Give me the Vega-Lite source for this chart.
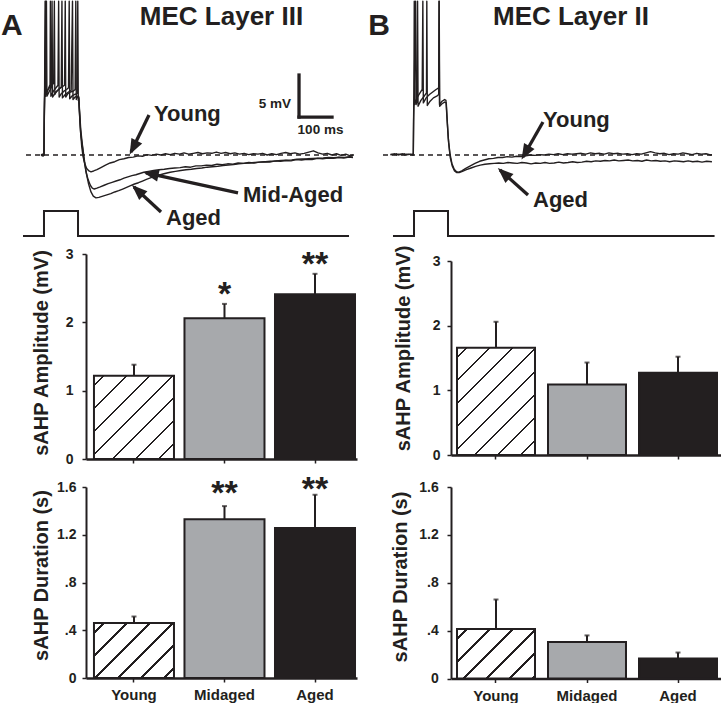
{
"$schema":"https://vega.github.io/schema/vega-lite/v6.json",
"background":"white",
"padding":{"left":0,"top":0,"right":0,"bottom":0},
"config":{"view":{"stroke":null},"font":"Liberation Sans",
 "axis":{"domainColor":"#231f20","tickColor":"#231f20","labelColor":"#231f20","titleColor":"#231f20","labelFont":"Liberation Sans","titleFont":"Liberation Sans","labelFontWeight":"bold","titleFontWeight":"bold","labelFontSize":14,"titleFontSize":20,"grid":false,"labelFlush":false,"labelOverlap":false,"labelBound":false}},
"datasets":{
 "trA":[
  {"s":"Y","t":55,"v":0},{"s":"Y","t":58,"v":0.1},{"s":"Y","t":61,"v":-0.1},{"s":"Y","t":63.5,"v":0.05},{"s":"Y","t":64.5,"v":5},{"s":"Y","t":65.5,"v":8.0},{"s":"Y","t":67,"v":18.3},{"s":"Y","t":68.5,"v":7.0},{"s":"Y","t":72,"v":7.6},{"s":"Y","t":80,"v":8.0},{"s":"Y","t":88,"v":8.3},{"s":"Y","t":93,"v":8.6},{"s":"Y","t":95,"v":18.3},{"s":"Y","t":96.5,"v":7.2},{"s":"Y","t":102,"v":7.6},{"s":"Y","t":110,"v":7.9},{"s":"Y","t":118,"v":8.1},{"s":"Y","t":126,"v":8.3},{"s":"Y","t":128,"v":18.3},{"s":"Y","t":129.5,"v":6.9},{"s":"Y","t":136,"v":7.3},{"s":"Y","t":144,"v":7.5},{"s":"Y","t":152,"v":7.6},{"s":"Y","t":158,"v":7.8},{"s":"Y","t":160,"v":18.3},{"s":"Y","t":161.5,"v":6.6},{"s":"Y","t":165,"v":6.9},{"s":"Y","t":168,"v":7.0},
  {"s":"Y","t":170,"v":6.0},{"s":"Y","t":174,"v":3.0},{"s":"Y","t":178,"v":1.0},{"s":"Y","t":182,"v":-0.2},{"s":"Y","t":187,"v":-1.0},{"s":"Y","t":193,"v":-1.6},{"s":"Y","t":200,"v":-1.9},{"s":"Y","t":206,"v":-2.0},{"s":"Y","t":214,"v":-1.9},{"s":"Y","t":224,"v":-1.75},{"s":"Y","t":236,"v":-1.5},{"s":"Y","t":250,"v":-1.2},{"s":"Y","t":264,"v":-0.95},{"s":"Y","t":278,"v":-0.8},{"s":"Y","t":292,"v":-0.55},{"s":"Y","t":306,"v":-0.45},{"s":"Y","t":320,"v":-0.3},{"s":"Y","t":334,"v":-0.25},{"s":"Y","t":348,"v":-0.1},{"s":"Y","t":362,"v":-0.15},{"s":"Y","t":376,"v":0.05},{"s":"Y","t":390,"v":-0.05},{"s":"Y","t":404,"v":0.1},{"s":"Y","t":418,"v":0.0},{"s":"Y","t":432,"v":0.15},{"s":"Y","t":446,"v":0.05},{"s":"Y","t":460,"v":0.2},{"s":"Y","t":474,"v":0.1},{"s":"Y","t":488,"v":0.25},{"s":"Y","t":502,"v":0.1},{"s":"Y","t":516,"v":0.2},{"s":"Y","t":530,"v":0.3},{"s":"Y","t":544,"v":0.15},{"s":"Y","t":558,"v":0.25},{"s":"Y","t":572,"v":0.2},{"s":"Y","t":586,"v":0.35},{"s":"Y","t":600,"v":0.2},{"s":"Y","t":614,"v":0.3},{"s":"Y","t":628,"v":0.15},{"s":"Y","t":642,"v":0.25},{"s":"Y","t":656,"v":0.1},{"s":"Y","t":670,"v":0.2},{"s":"Y","t":684,"v":0.05},{"s":"Y","t":698,"v":0.15},{"s":"Y","t":712,"v":0.1},{"s":"Y","t":726,"v":0.2},{"s":"Y","t":740,"v":0.0},{"s":"Y","t":754,"v":0.15},{"s":"Y","t":768,"v":0.05},{"s":"Y","t":782,"v":0.2},{"s":"Y","t":796,"v":0.3},{"s":"Y","t":810,"v":0.15},{"s":"Y","t":824,"v":0.25},{"s":"Y","t":838,"v":0.1},{"s":"Y","t":852,"v":0.2},{"s":"Y","t":866,"v":0.35},{"s":"Y","t":880,"v":0.5},{"s":"Y","t":894,"v":0.25},{"s":"Y","t":908,"v":0.1},{"s":"Y","t":922,"v":0.2},{"s":"Y","t":936,"v":0.0},{"s":"Y","t":950,"v":0.15},{"s":"Y","t":964,"v":-0.05},{"s":"Y","t":978,"v":0.1},{"s":"Y","t":992,"v":-0.1},{"s":"Y","t":1000,"v":0.0},
  {"s":"M","t":55,"v":0.05},{"s":"M","t":58,"v":-0.1},{"s":"M","t":61,"v":0.1},{"s":"M","t":63.5,"v":0},{"s":"M","t":64.5,"v":4.5},{"s":"M","t":66,"v":8.2},{"s":"M","t":69,"v":18.3},{"s":"M","t":70.5,"v":7.2},{"s":"M","t":76,"v":7.8},{"s":"M","t":82,"v":8.4},{"s":"M","t":83,"v":18.3},{"s":"M","t":84.5,"v":7.0},{"s":"M","t":92,"v":7.6},{"s":"M","t":100,"v":8.0},{"s":"M","t":106,"v":8.3},{"s":"M","t":108,"v":18.3},{"s":"M","t":109.5,"v":6.9},{"s":"M","t":116,"v":7.3},{"s":"M","t":124,"v":7.6},{"s":"M","t":132,"v":7.8},{"s":"M","t":138,"v":8.0},{"s":"M","t":140,"v":18.3},{"s":"M","t":141.5,"v":6.7},{"s":"M","t":148,"v":7.0},{"s":"M","t":156,"v":7.2},{"s":"M","t":164,"v":7.3},{"s":"M","t":166,"v":18.3},{"s":"M","t":167.5,"v":6.5},{"s":"M","t":169,"v":6.8},
  {"s":"M","t":171,"v":5.0},{"s":"M","t":175,"v":2.5},{"s":"M","t":180,"v":1.0},{"s":"M","t":185,"v":-0.6},{"s":"M","t":191,"v":-2.0},{"s":"M","t":197,"v":-2.9},{"s":"M","t":204,"v":-3.6},{"s":"M","t":210,"v":-3.95},{"s":"M","t":216,"v":-4.05},{"s":"M","t":224,"v":-3.95},{"s":"M","t":234,"v":-3.8},{"s":"M","t":246,"v":-3.6},{"s":"M","t":258,"v":-3.4},{"s":"M","t":270,"v":-3.25},{"s":"M","t":282,"v":-3.1},{"s":"M","t":294,"v":-2.95},{"s":"M","t":306,"v":-2.75},{"s":"M","t":318,"v":-2.6},{"s":"M","t":330,"v":-2.45},{"s":"M","t":342,"v":-2.35},{"s":"M","t":354,"v":-2.2},{"s":"M","t":366,"v":-2.05},{"s":"M","t":380,"v":-1.95},{"s":"M","t":396,"v":-1.85},{"s":"M","t":412,"v":-1.75},{"s":"M","t":428,"v":-1.7},{"s":"M","t":444,"v":-1.6},{"s":"M","t":460,"v":-1.55},{"s":"M","t":476,"v":-1.5},{"s":"M","t":492,"v":-1.4},{"s":"M","t":508,"v":-1.45},{"s":"M","t":524,"v":-1.3},{"s":"M","t":540,"v":-1.3},{"s":"M","t":556,"v":-1.2},{"s":"M","t":572,"v":-1.25},{"s":"M","t":588,"v":-1.1},{"s":"M","t":604,"v":-1.15},{"s":"M","t":620,"v":-1.05},{"s":"M","t":636,"v":-1.1},{"s":"M","t":652,"v":-0.95},{"s":"M","t":668,"v":-1.0},{"s":"M","t":684,"v":-0.9},{"s":"M","t":700,"v":-0.95},{"s":"M","t":716,"v":-0.85},{"s":"M","t":732,"v":-0.8},{"s":"M","t":748,"v":-0.85},{"s":"M","t":764,"v":-0.7},{"s":"M","t":780,"v":-0.75},{"s":"M","t":796,"v":-0.65},{"s":"M","t":812,"v":-0.7},{"s":"M","t":828,"v":-0.55},{"s":"M","t":844,"v":-0.6},{"s":"M","t":860,"v":-0.5},{"s":"M","t":876,"v":-0.55},{"s":"M","t":892,"v":-0.4},{"s":"M","t":908,"v":-0.45},{"s":"M","t":924,"v":-0.35},{"s":"M","t":940,"v":-0.4},{"s":"M","t":956,"v":-0.3},{"s":"M","t":972,"v":-0.35},{"s":"M","t":988,"v":-0.25},{"s":"M","t":1000,"v":-0.3},
  {"s":"A","t":55,"v":-0.05},{"s":"A","t":58,"v":0.05},{"s":"A","t":61,"v":-0.1},{"s":"A","t":63.5,"v":0.05},{"s":"A","t":64.5,"v":4.0},{"s":"A","t":66,"v":7.9},{"s":"A","t":71,"v":18.3},{"s":"A","t":72.5,"v":7.0},{"s":"A","t":80,"v":7.6},{"s":"A","t":86,"v":8.1},{"s":"A","t":88,"v":18.3},{"s":"A","t":89.5,"v":6.9},{"s":"A","t":98,"v":7.4},{"s":"A","t":108,"v":7.8},{"s":"A","t":116,"v":8.1},{"s":"A","t":118,"v":18.3},{"s":"A","t":119.5,"v":6.8},{"s":"A","t":128,"v":7.2},{"s":"A","t":138,"v":7.5},{"s":"A","t":146,"v":7.7},{"s":"A","t":150,"v":18.3},{"s":"A","t":151.5,"v":6.6},{"s":"A","t":158,"v":6.9},{"s":"A","t":166,"v":7.0},{"s":"A","t":169,"v":6.9},
  {"s":"A","t":171,"v":5.5},{"s":"A","t":175,"v":3.0},{"s":"A","t":180,"v":1.2},{"s":"A","t":186,"v":-0.6},{"s":"A","t":192,"v":-2.2},{"s":"A","t":199,"v":-3.5},{"s":"A","t":206,"v":-4.4},{"s":"A","t":213,"v":-4.9},{"s":"A","t":221,"v":-5.1},{"s":"A","t":230,"v":-5.05},{"s":"A","t":242,"v":-4.9},{"s":"A","t":254,"v":-4.75},{"s":"A","t":266,"v":-4.6},{"s":"A","t":278,"v":-4.4},{"s":"A","t":290,"v":-4.25},{"s":"A","t":302,"v":-4.05},{"s":"A","t":314,"v":-3.85},{"s":"A","t":326,"v":-3.65},{"s":"A","t":338,"v":-3.45},{"s":"A","t":350,"v":-3.3},{"s":"A","t":362,"v":-3.1},{"s":"A","t":374,"v":-2.9},{"s":"A","t":388,"v":-2.7},{"s":"A","t":402,"v":-2.5},{"s":"A","t":416,"v":-2.35},{"s":"A","t":430,"v":-2.2},{"s":"A","t":446,"v":-2.05},{"s":"A","t":462,"v":-1.95},{"s":"A","t":478,"v":-1.85},{"s":"A","t":494,"v":-1.75},{"s":"A","t":510,"v":-1.7},{"s":"A","t":526,"v":-1.6},{"s":"A","t":542,"v":-1.55},{"s":"A","t":558,"v":-1.45},{"s":"A","t":574,"v":-1.4},{"s":"A","t":590,"v":-1.35},{"s":"A","t":606,"v":-1.25},{"s":"A","t":622,"v":-1.2},{"s":"A","t":638,"v":-1.15},{"s":"A","t":654,"v":-1.05},{"s":"A","t":670,"v":-1.0},{"s":"A","t":686,"v":-0.95},{"s":"A","t":702,"v":-0.9},{"s":"A","t":718,"v":-0.85},{"s":"A","t":734,"v":-0.8},{"s":"A","t":750,"v":-0.75},{"s":"A","t":766,"v":-0.72},{"s":"A","t":782,"v":-0.65},{"s":"A","t":798,"v":-0.62},{"s":"A","t":814,"v":-0.58},{"s":"A","t":830,"v":-0.5},{"s":"A","t":846,"v":-0.48},{"s":"A","t":862,"v":-0.45},{"s":"A","t":878,"v":-0.4},{"s":"A","t":894,"v":-0.38},{"s":"A","t":910,"v":-0.35},{"s":"A","t":926,"v":-0.3},{"s":"A","t":942,"v":-0.32},{"s":"A","t":958,"v":-0.25},{"s":"A","t":974,"v":-0.28},{"s":"A","t":990,"v":-0.2},{"s":"A","t":1000,"v":-0.25}
 ],
 "trB":[
  {"s":"Y","t":-6,"v":0.1},{"s":"Y","t":0,"v":0.05},{"s":"Y","t":6,"v":0.15},{"s":"Y","t":12,"v":0.0},{"s":"Y","t":18,"v":0.1},{"s":"Y","t":24,"v":0.05},{"s":"Y","t":30,"v":0.15},{"s":"Y","t":36,"v":0.0},{"s":"Y","t":42,"v":0.1},{"s":"Y","t":48,"v":0.05},{"s":"Y","t":54,"v":0.1},{"s":"Y","t":60,"v":0.0},{"s":"Y","t":63,"v":0.05},
  {"s":"Y","t":64,"v":4.5},{"s":"Y","t":65,"v":7.5},{"s":"Y","t":66,"v":18.3},{"s":"Y","t":67.5,"v":6.0},{"s":"Y","t":74,"v":6.8},{"s":"Y","t":82,"v":7.3},{"s":"Y","t":90,"v":7.8},{"s":"Y","t":92,"v":18.3},{"s":"Y","t":93.5,"v":6.2},{"s":"Y","t":102,"v":6.8},{"s":"Y","t":112,"v":7.2},{"s":"Y","t":122,"v":7.5},{"s":"Y","t":132,"v":7.8},{"s":"Y","t":140,"v":8.0},{"s":"Y","t":141,"v":18.3},{"s":"Y","t":142.5,"v":6.0},{"s":"Y","t":150,"v":6.4},{"s":"Y","t":158,"v":6.6},{"s":"Y","t":162,"v":6.5},
  {"s":"Y","t":165,"v":4.5},{"s":"Y","t":169,"v":2.0},{"s":"Y","t":174,"v":0.2},{"s":"Y","t":180,"v":-1.0},{"s":"Y","t":187,"v":-1.7},{"s":"Y","t":194,"v":-2.0},{"s":"Y","t":201,"v":-2.05},{"s":"Y","t":210,"v":-1.9},{"s":"Y","t":222,"v":-1.6},{"s":"Y","t":236,"v":-1.3},{"s":"Y","t":250,"v":-1.0},{"s":"Y","t":264,"v":-0.75},{"s":"Y","t":278,"v":-0.6},{"s":"Y","t":292,"v":-0.45},{"s":"Y","t":306,"v":-0.4},{"s":"Y","t":320,"v":-0.3},{"s":"Y","t":334,"v":-0.3},{"s":"Y","t":348,"v":-0.2},{"s":"Y","t":362,"v":-0.25},{"s":"Y","t":376,"v":-0.15},{"s":"Y","t":390,"v":-0.2},{"s":"Y","t":404,"v":-0.1},{"s":"Y","t":418,"v":0.0},{"s":"Y","t":432,"v":-0.05},{"s":"Y","t":446,"v":0.05},{"s":"Y","t":460,"v":0.0},{"s":"Y","t":474,"v":0.1},{"s":"Y","t":488,"v":0.05},{"s":"Y","t":502,"v":0.15},{"s":"Y","t":516,"v":0.05},{"s":"Y","t":530,"v":0.15},{"s":"Y","t":544,"v":0.1},{"s":"Y","t":558,"v":0.15},{"s":"Y","t":572,"v":0.2},{"s":"Y","t":586,"v":0.1},{"s":"Y","t":600,"v":0.25},{"s":"Y","t":614,"v":0.15},{"s":"Y","t":628,"v":0.2},{"s":"Y","t":642,"v":0.1},{"s":"Y","t":656,"v":0.25},{"s":"Y","t":670,"v":0.15},{"s":"Y","t":684,"v":0.2},{"s":"Y","t":698,"v":0.1},{"s":"Y","t":712,"v":0.15},{"s":"Y","t":726,"v":0.05},{"s":"Y","t":740,"v":0.15},{"s":"Y","t":754,"v":0.1},{"s":"Y","t":768,"v":0.25},{"s":"Y","t":782,"v":0.4},{"s":"Y","t":796,"v":0.25},{"s":"Y","t":810,"v":0.15},{"s":"Y","t":824,"v":0.2},{"s":"Y","t":838,"v":0.05},{"s":"Y","t":852,"v":0.15},{"s":"Y","t":866,"v":0.1},{"s":"Y","t":880,"v":0.25},{"s":"Y","t":894,"v":0.15},{"s":"Y","t":908,"v":0.05},{"s":"Y","t":922,"v":0.2},{"s":"Y","t":936,"v":0.1},{"s":"Y","t":950,"v":0.15},{"s":"Y","t":964,"v":0.0},{"s":"Y","t":968,"v":0.05},
  {"s":"A","t":-6,"v":0.0},{"s":"A","t":0,"v":0.1},{"s":"A","t":6,"v":0.05},{"s":"A","t":12,"v":0.15},{"s":"A","t":18,"v":0.0},{"s":"A","t":24,"v":0.1},{"s":"A","t":30,"v":0.05},{"s":"A","t":36,"v":0.15},{"s":"A","t":42,"v":0.0},{"s":"A","t":48,"v":0.1},{"s":"A","t":54,"v":0.05},{"s":"A","t":60,"v":0.1},{"s":"A","t":63,"v":0.0},
  {"s":"A","t":64,"v":4.0},{"s":"A","t":65.5,"v":7.0},{"s":"A","t":70,"v":18.3},{"s":"A","t":71.5,"v":6.0},{"s":"A","t":75,"v":6.5},{"s":"A","t":76,"v":18.3},{"s":"A","t":77.5,"v":5.8},{"s":"A","t":86,"v":6.5},{"s":"A","t":96,"v":7.0},{"s":"A","t":103,"v":7.4},{"s":"A","t":104,"v":18.3},{"s":"A","t":105.5,"v":5.9},{"s":"A","t":114,"v":6.4},{"s":"A","t":124,"v":6.8},{"s":"A","t":134,"v":7.0},{"s":"A","t":140,"v":7.2},{"s":"A","t":141.5,"v":18.3},{"s":"A","t":143,"v":5.8},{"s":"A","t":150,"v":6.1},{"s":"A","t":158,"v":6.3},{"s":"A","t":163,"v":6.2},
  {"s":"A","t":166,"v":4.0},{"s":"A","t":170,"v":1.5},{"s":"A","t":175,"v":-0.3},{"s":"A","t":181,"v":-1.3},{"s":"A","t":188,"v":-1.9},{"s":"A","t":195,"v":-2.1},{"s":"A","t":202,"v":-2.1},{"s":"A","t":212,"v":-1.95},{"s":"A","t":224,"v":-1.75},{"s":"A","t":238,"v":-1.55},{"s":"A","t":252,"v":-1.35},{"s":"A","t":266,"v":-1.2},{"s":"A","t":280,"v":-1.1},{"s":"A","t":294,"v":-1.05},{"s":"A","t":308,"v":-1.0},{"s":"A","t":322,"v":-0.95},{"s":"A","t":336,"v":-1.0},{"s":"A","t":350,"v":-0.9},{"s":"A","t":364,"v":-0.95},{"s":"A","t":378,"v":-1.0},{"s":"A","t":392,"v":-0.9},{"s":"A","t":406,"v":-0.95},{"s":"A","t":420,"v":-1.05},{"s":"A","t":434,"v":-0.95},{"s":"A","t":448,"v":-1.0},{"s":"A","t":462,"v":-0.9},{"s":"A","t":476,"v":-1.0},{"s":"A","t":490,"v":-0.95},{"s":"A","t":504,"v":-0.85},{"s":"A","t":518,"v":-0.95},{"s":"A","t":532,"v":-0.9},{"s":"A","t":546,"v":-0.8},{"s":"A","t":560,"v":-0.9},{"s":"A","t":574,"v":-0.85},{"s":"A","t":588,"v":-0.75},{"s":"A","t":602,"v":-0.8},{"s":"A","t":616,"v":-0.7},{"s":"A","t":630,"v":-0.75},{"s":"A","t":644,"v":-0.65},{"s":"A","t":658,"v":-0.7},{"s":"A","t":672,"v":-0.6},{"s":"A","t":686,"v":-0.7},{"s":"A","t":700,"v":-0.65},{"s":"A","t":714,"v":-0.6},{"s":"A","t":728,"v":-0.7},{"s":"A","t":742,"v":-0.65},{"s":"A","t":756,"v":-0.75},{"s":"A","t":770,"v":-0.6},{"s":"A","t":784,"v":-0.7},{"s":"A","t":798,"v":-0.65},{"s":"A","t":812,"v":-0.75},{"s":"A","t":826,"v":-0.7},{"s":"A","t":840,"v":-0.8},{"s":"A","t":854,"v":-0.7},{"s":"A","t":868,"v":-0.75},{"s":"A","t":882,"v":-0.8},{"s":"A","t":896,"v":-0.7},{"s":"A","t":910,"v":-0.8},{"s":"A","t":924,"v":-0.75},{"s":"A","t":938,"v":-0.85},{"s":"A","t":952,"v":-0.75},{"s":"A","t":968,"v":-0.8}
 ],
 "stimA":[{"i":1,"t":0,"v":-9.64},{"i":2,"t":63.6,"v":-9.64},{"i":3,"t":63.6,"v":-6.67},{"i":4,"t":166.7,"v":-6.67},{"i":5,"t":166.7,"v":-9.64},{"i":6,"t":987.9,"v":-9.64}],
 "stimB":[{"i":1,"t":1.5,"v":-9.64},{"i":2,"t":65.2,"v":-9.64},{"i":3,"t":65.2,"v":-6.67},{"i":4,"t":168.2,"v":-6.67},{"i":5,"t":168.2,"v":-9.64},{"i":6,"t":976,"v":-9.64}],
 "arrA":[{"a":"Young","t":381.8,"v":4.76,"t2":327.3,"v2":0.36},{"a":"Mid","t":651.5,"v":-4.52,"t2":372.7,"v2":-2.14},{"a":"Aged","t":418.2,"v":-6.79,"t2":336.4,"v2":-3.81}],
 "arrB":[{"a":"Young","t":456,"v":3.93,"t2":395.5,"v2":-0.24},{"a":"Aged","t":410.6,"v":-4.76,"t2":325.8,"v2":-1.79}],
 "ampA":[{"g":"Young","m":1.22,"hi":1.38},{"g":"Midaged","m":2.06,"hi":2.27,"star":"*","sy":2.26},{"g":"Aged","m":2.41,"hi":2.71,"star":"**","sy":2.70}],
 "durA":[{"g":"Young","m":0.46,"hi":0.515},{"g":"Midaged","m":1.33,"hi":1.44,"star":"**","sy":1.46},{"g":"Aged","m":1.257,"hi":1.535,"star":"**","sy":1.49}],
 "ampB":[{"g":"Young","m":1.66,"hi":2.06},{"g":"Midaged","m":1.09,"hi":1.43},{"g":"Aged","m":1.27,"hi":1.52}],
 "durB":[{"g":"Young","m":0.414,"hi":0.66},{"g":"Midaged","m":0.305,"hi":0.36},{"g":"Aged","m":0.167,"hi":0.217}]
},
"bounds":"full",
"spacing":11,
"hconcat":[
 {"bounds":"flush","spacing":28,"vconcat":[
  {"width":271,"height":226,
   "layer":[
    {"data":{"values":[{"t":9.1,"t2":1003,"v":0}]},"mark":{"type":"rule","color":"#231f20","strokeWidth":1.3,"strokeDash":[5,4]},
     "encoding":{"x":{"field":"t","type":"quantitative","scale":{"domain":[190.9,1012.1],"nice":false,"zero":false},"axis":null},"x2":{"field":"t2"},"y":{"field":"v","type":"quantitative","scale":{"domain":[-8.452,18.452],"nice":false,"zero":false},"axis":null}}},
    {"data":{"name":"stimA"},"mark":{"type":"line","color":"#231f20","strokeWidth":2},"encoding":{"x":{"field":"t","type":"quantitative"},"y":{"field":"v","type":"quantitative"},"order":{"field":"i","type":"quantitative"}}},
    {"data":{"name":"trA"},"mark":{"type":"line","color":"#231f20","strokeWidth":1.4,"strokeJoin":"round"},"encoding":{"x":{"field":"t","type":"quantitative"},"y":{"field":"v","type":"quantitative"},"detail":{"field":"s","type":"nominal"}}},
    {"data":{"values":[{"t":836.4,"t2":836.4,"v":4.52,"v2":9.52},{"t":836.4,"t2":936.4,"v":4.52,"v2":4.52}]},"mark":{"type":"rule","color":"#231f20","strokeWidth":3.3,"strokeCap":"square"},"encoding":{"x":{"field":"t","type":"quantitative"},"x2":{"field":"t2"},"y":{"field":"v","type":"quantitative"},"y2":{"field":"v2"}}},
    {"data":{"values":[{"label":"MEC Layer III","t":601.5,"v":15.48}]},"mark":{"type":"text","font":"Liberation Sans","fontWeight":"bold","fontSize":26,"align":"center","baseline":"alphabetic","color":"#231f20"},"encoding":{"x":{"field":"t","type":"quantitative"},"y":{"field":"v","type":"quantitative"},"text":{"field":"label"}}},
    {"data":{"values":[{"label":"A","t":-66.7,"v":14.29}]},"mark":{"type":"text","font":"Liberation Sans","fontWeight":"bold","fontSize":30,"align":"left","baseline":"alphabetic","color":"#231f20"},"encoding":{"x":{"field":"t","type":"quantitative"},"y":{"field":"v","type":"quantitative"},"text":{"field":"label"}}},
    {"data":{"values":[{"label":"Young","t":397,"v":4.05},{"label":"Mid-Aged","t":666.7,"v":-5.56},{"label":"Aged","t":433.3,"v":-8.33}]},"mark":{"type":"text","font":"Liberation Sans","fontWeight":"bold","fontSize":22,"align":"left","baseline":"alphabetic","color":"#231f20"},"encoding":{"x":{"field":"t","type":"quantitative"},"y":{"field":"v","type":"quantitative"},"text":{"field":"label"}}},
    {"data":{"values":[{"label":"5 mV","t":812.1,"v":5.56}]},"mark":{"type":"text","font":"Liberation Sans","fontWeight":"bold","fontSize":13.5,"align":"right","baseline":"alphabetic","color":"#231f20"},"encoding":{"x":{"field":"t","type":"quantitative"},"y":{"field":"v","type":"quantitative"},"text":{"field":"label"}}},
    {"data":{"values":[{"label":"100 ms","t":901.5,"v":2.5}]},"mark":{"type":"text","font":"Liberation Sans","fontWeight":"bold","fontSize":13.5,"align":"center","baseline":"alphabetic","color":"#231f20"},"encoding":{"x":{"field":"t","type":"quantitative"},"y":{"field":"v","type":"quantitative"},"text":{"field":"label"}}},
    {"data":{"name":"arrA"},"mark":{"type":"rule","color":"#231f20","strokeWidth":3.3},"encoding":{"x":{"field":"t","type":"quantitative"},"x2":{"field":"t2"},"y":{"field":"v","type":"quantitative"},"y2":{"field":"v2"}}},
    {"data":{"name":"arrA"},"transform":[{"filter":"datum.a == 'Young'"}],"mark":{"type":"point","shape":"M0,-0.3L0.62,1.3L-0.62,1.3Z","filled":true,"size":380,"angle":207.2,"color":"#231f20","opacity":1,"strokeWidth":0},"encoding":{"x":{"field":"t2","type":"quantitative"},"y":{"field":"v2","type":"quantitative"}}},
    {"data":{"name":"arrA"},"transform":[{"filter":"datum.a == 'Mid'"}],"mark":{"type":"point","shape":"M0,-0.3L0.62,1.3L-0.62,1.3Z","filled":true,"size":380,"angle":282.3,"color":"#231f20","opacity":1,"strokeWidth":0},"encoding":{"x":{"field":"t2","type":"quantitative"},"y":{"field":"v2","type":"quantitative"}}},
    {"data":{"name":"arrA"},"transform":[{"filter":"datum.a == 'Aged'"}],"mark":{"type":"point","shape":"M0,-0.3L0.62,1.3L-0.62,1.3Z","filled":true,"size":380,"angle":312.8,"color":"#231f20","opacity":1,"strokeWidth":0},"encoding":{"x":{"field":"t2","type":"quantitative"},"y":{"field":"v2","type":"quantitative"}}}
   ]},
  {"width":271,"height":205,"data":{"name":"ampA"},
   "encoding":{"x":{"field":"g","type":"nominal","scale":{"domain":["Young","Midaged","Aged"],"paddingInner":0.116,"paddingOuter":0.055,"align":0.8},"axis":{"title":null,"labels":false,"tickSize":4,"tickWidth":1.5,"domainWidth":2.5}}},
   "layer":[
    {"transform":[{"filter":"datum.g == 'Young'"}],"mark":{"type":"bar","stroke":"#231f20","strokeWidth":2,"fill":{"gradient":"linear","x1":0,"y1":0,"x2":0.979,"y2":1.02,"stops":[{"offset":0,"color":"white"},{"offset":0.0545,"color":"white"},{"offset":0.0545,"color":"#231f20"},{"offset":0.0679,"color":"#231f20"},{"offset":0.0679,"color":"white"},{"offset":0.1952,"color":"white"},{"offset":0.1952,"color":"#231f20"},{"offset":0.2087,"color":"#231f20"},{"offset":0.2087,"color":"white"},{"offset":0.336,"color":"white"},{"offset":0.336,"color":"#231f20"},{"offset":0.3494,"color":"#231f20"},{"offset":0.3494,"color":"white"},{"offset":0.4767,"color":"white"},{"offset":0.4767,"color":"#231f20"},{"offset":0.4902,"color":"#231f20"},{"offset":0.4902,"color":"white"},{"offset":0.6175,"color":"white"},{"offset":0.6175,"color":"#231f20"},{"offset":0.631,"color":"#231f20"},{"offset":0.631,"color":"white"},{"offset":0.7583,"color":"white"},{"offset":0.7583,"color":"#231f20"},{"offset":0.7717,"color":"#231f20"},{"offset":0.7717,"color":"white"},{"offset":0.899,"color":"white"},{"offset":0.899,"color":"#231f20"},{"offset":0.9125,"color":"#231f20"},{"offset":0.9125,"color":"white"},{"offset":1,"color":"white"}]}},
     "encoding":{"y":{"field":"m","type":"quantitative","scale":{"domain":[0,3],"nice":false},"axis":{"title":"sAHP Amplitude (mV)","titleY":98.5,"values":[0,0.25,0.5,0.75,1,1.25,1.5,1.75,2,2.25,2.5,2.75,3],"labelExpr":"datum.value % 1 == 0 ? format(datum.value,'d') : ''","tickSize":4,"tickWidth":1.5,"domainWidth":2,"labelPadding":9,"titlePadding":14}}}},
    {"transform":[{"filter":"datum.g != 'Young'"}],"mark":{"type":"bar","stroke":"#231f20","strokeWidth":2},"encoding":{"y":{"field":"m","type":"quantitative"},"fill":{"field":"g","type":"nominal","scale":{"domain":["Midaged","Aged"],"range":["#a7a9ac","#231f20"]},"legend":null}}},
    {"mark":{"type":"rule","color":"#231f20","strokeWidth":2},"encoding":{"y":{"field":"m","type":"quantitative"},"y2":{"field":"hi"}}},
    {"mark":{"type":"tick","orient":"horizontal","color":"#231f20","thickness":2,"size":5},"encoding":{"y":{"field":"hi","type":"quantitative"}}},
    {"transform":[{"filter":"datum.star"}],"mark":{"type":"text","font":"Liberation Sans","fontWeight":"bold","fontSize":34,"baseline":"alphabetic","color":"#231f20"},"encoding":{"y":{"field":"sy","type":"quantitative"},"text":{"field":"star"}}}
   ]},
  {"width":271,"height":191,"data":{"name":"durA"},
   "encoding":{"x":{"field":"g","type":"nominal","scale":{"domain":["Young","Midaged","Aged"],"paddingInner":0.116,"paddingOuter":0.055,"align":0.8},"axis":{"title":null,"labelAngle":0,"labelFontSize":15,"labelPadding":5.6,"tickSize":4,"tickWidth":1.5,"domainWidth":2.5}}},
   "layer":[
    {"transform":[{"filter":"datum.g == 'Young'"}],"mark":{"type":"bar","stroke":"#231f20","strokeWidth":2,"fill":{"gradient":"linear","x1":0,"y1":0,"x2":1.146,"y2":0.787,"stops":[{"offset":0,"color":"white"},{"offset":0.066,"color":"white"},{"offset":0.066,"color":"#231f20"},{"offset":0.0823,"color":"#231f20"},{"offset":0.0823,"color":"white"},{"offset":0.2365,"color":"white"},{"offset":0.2365,"color":"#231f20"},{"offset":0.2528,"color":"#231f20"},{"offset":0.2528,"color":"white"},{"offset":0.407,"color":"white"},{"offset":0.407,"color":"#231f20"},{"offset":0.4233,"color":"#231f20"},{"offset":0.4233,"color":"white"},{"offset":0.5775,"color":"white"},{"offset":0.5775,"color":"#231f20"},{"offset":0.5938,"color":"#231f20"},{"offset":0.5938,"color":"white"},{"offset":0.748,"color":"white"},{"offset":0.748,"color":"#231f20"},{"offset":0.7643,"color":"#231f20"},{"offset":0.7643,"color":"white"},{"offset":0.9185,"color":"white"},{"offset":0.9185,"color":"#231f20"},{"offset":0.9348,"color":"#231f20"},{"offset":0.9348,"color":"white"},{"offset":1,"color":"white"}]}},
     "encoding":{"y":{"field":"m","type":"quantitative","scale":{"domain":[0,1.6],"nice":false},"axis":{"title":"sAHP Duration (s)","titleY":88,"values":[0,0.1,0.2,0.3,0.4,0.5,0.6,0.7,0.8,0.9,1.0,1.1,1.2,1.3,1.4,1.5,1.6],"labelExpr":"datum.value == 0 ? '0' : datum.value == 0.4 ? '.4' : datum.value == 0.8 ? '.8' : datum.value == 1.2 ? '1.2' : datum.value == 1.6 ? '1.6' : ''","tickSize":4,"tickWidth":1.5,"domainWidth":2,"labelPadding":6,"titlePadding":5.5}}}},
    {"transform":[{"filter":"datum.g != 'Young'"}],"mark":{"type":"bar","stroke":"#231f20","strokeWidth":2},"encoding":{"y":{"field":"m","type":"quantitative"},"fill":{"field":"g","type":"nominal","scale":{"domain":["Midaged","Aged"],"range":["#a7a9ac","#231f20"]},"legend":null}}},
    {"mark":{"type":"rule","color":"#231f20","strokeWidth":2},"encoding":{"y":{"field":"m","type":"quantitative"},"y2":{"field":"hi"}}},
    {"mark":{"type":"tick","orient":"horizontal","color":"#231f20","thickness":2,"size":5},"encoding":{"y":{"field":"hi","type":"quantitative"}}},
    {"transform":[{"filter":"datum.star"}],"mark":{"type":"text","font":"Liberation Sans","fontWeight":"bold","fontSize":34,"baseline":"alphabetic","color":"#231f20"},"encoding":{"y":{"field":"sy","type":"quantitative"},"text":{"field":"star"}}}
   ]}
 ]},
 {"bounds":"flush","spacing":32,"vconcat":[
  {"width":270,"height":229,
   "layer":[
    {"data":{"values":[{"t":-28.8,"t2":968.2,"v":0}]},"mark":{"type":"rule","color":"#231f20","strokeWidth":1.3,"strokeDash":[5,4]},
     "encoding":{"x":{"field":"t","type":"quantitative","scale":{"domain":[177.3,995.5],"nice":false,"zero":false},"axis":null},"x2":{"field":"t2"},"y":{"field":"v","type":"quantitative","scale":{"domain":[-8.81,18.452],"nice":false,"zero":false},"axis":null}}},
    {"data":{"name":"stimB"},"mark":{"type":"line","color":"#231f20","strokeWidth":2},"encoding":{"x":{"field":"t","type":"quantitative"},"y":{"field":"v","type":"quantitative"},"order":{"field":"i","type":"quantitative"}}},
    {"data":{"name":"trB"},"mark":{"type":"line","color":"#231f20","strokeWidth":1.4,"strokeJoin":"round"},"encoding":{"x":{"field":"t","type":"quantitative"},"y":{"field":"v","type":"quantitative"},"detail":{"field":"s","type":"nominal"}}},
    {"data":{"values":[{"label":"MEC Layer II","t":541,"v":15.48}]},"mark":{"type":"text","font":"Liberation Sans","fontWeight":"bold","fontSize":26,"align":"center","baseline":"alphabetic","color":"#231f20"},"encoding":{"x":{"field":"t","type":"quantitative"},"y":{"field":"v","type":"quantitative"},"text":{"field":"label"}}},
    {"data":{"values":[{"label":"B","t":-73.8,"v":14.29}]},"mark":{"type":"text","font":"Liberation Sans","fontWeight":"bold","fontSize":30,"align":"left","baseline":"alphabetic","color":"#231f20"},"encoding":{"x":{"field":"t","type":"quantitative"},"y":{"field":"v","type":"quantitative"},"text":{"field":"label"}}},
    {"data":{"values":[{"label":"Young","t":456,"v":3.37},{"label":"Aged","t":425.8,"v":-6.15}]},"mark":{"type":"text","font":"Liberation Sans","fontWeight":"bold","fontSize":22,"align":"left","baseline":"alphabetic","color":"#231f20"},"encoding":{"x":{"field":"t","type":"quantitative"},"y":{"field":"v","type":"quantitative"},"text":{"field":"label"}}},
    {"data":{"name":"arrB"},"mark":{"type":"rule","color":"#231f20","strokeWidth":3.3},"encoding":{"x":{"field":"t","type":"quantitative"},"x2":{"field":"t2"},"y":{"field":"v","type":"quantitative"},"y2":{"field":"v2"}}},
    {"data":{"name":"arrB"},"transform":[{"filter":"datum.a == 'Young'"}],"mark":{"type":"point","shape":"M0,-0.3L0.62,1.3L-0.62,1.3Z","filled":true,"size":380,"angle":209.7,"color":"#231f20","opacity":1,"strokeWidth":0},"encoding":{"x":{"field":"t2","type":"quantitative"},"y":{"field":"v2","type":"quantitative"}}},
    {"data":{"name":"arrB"},"transform":[{"filter":"datum.a == 'Aged'"}],"mark":{"type":"point","shape":"M0,-0.3L0.62,1.3L-0.62,1.3Z","filled":true,"size":380,"angle":311.8,"color":"#231f20","opacity":1,"strokeWidth":0},"encoding":{"x":{"field":"t2","type":"quantitative"},"y":{"field":"v2","type":"quantitative"}}}
   ]},
  {"width":270,"height":194,"data":{"name":"ampB"},
   "encoding":{"x":{"field":"g","type":"nominal","scale":{"domain":["Young","Midaged","Aged"],"paddingInner":0.143,"paddingOuter":0.055,"align":0.6},"axis":{"title":null,"labels":false,"tickSize":4,"tickWidth":1.5,"domainWidth":2.5}}},
   "layer":[
    {"transform":[{"filter":"datum.g == 'Young'"}],"mark":{"type":"bar","stroke":"#231f20","strokeWidth":2,"fill":{"gradient":"linear","x1":0,"y1":0,"x2":0.821,"y2":1.13,"stops":[{"offset":0,"color":"white"},{"offset":0.048,"color":"white"},{"offset":0.048,"color":"#231f20"},{"offset":0.0599,"color":"#231f20"},{"offset":0.0599,"color":"white"},{"offset":0.1722,"color":"white"},{"offset":0.1722,"color":"#231f20"},{"offset":0.184,"color":"#231f20"},{"offset":0.184,"color":"white"},{"offset":0.2963,"color":"white"},{"offset":0.2963,"color":"#231f20"},{"offset":0.3081,"color":"#231f20"},{"offset":0.3081,"color":"white"},{"offset":0.4204,"color":"white"},{"offset":0.4204,"color":"#231f20"},{"offset":0.4323,"color":"#231f20"},{"offset":0.4323,"color":"white"},{"offset":0.5445,"color":"white"},{"offset":0.5445,"color":"#231f20"},{"offset":0.5564,"color":"#231f20"},{"offset":0.5564,"color":"white"},{"offset":0.6686,"color":"white"},{"offset":0.6686,"color":"#231f20"},{"offset":0.6805,"color":"#231f20"},{"offset":0.6805,"color":"white"},{"offset":0.7928,"color":"white"},{"offset":0.7928,"color":"#231f20"},{"offset":0.8046,"color":"#231f20"},{"offset":0.8046,"color":"white"},{"offset":0.9169,"color":"white"},{"offset":0.9169,"color":"#231f20"},{"offset":0.9288,"color":"#231f20"},{"offset":0.9288,"color":"white"},{"offset":1,"color":"white"}]}},
     "encoding":{"y":{"field":"m","type":"quantitative","scale":{"domain":[0,3],"nice":false},"axis":{"title":"sAHP Amplitude (mV)","titleY":87,"values":[0,0.25,0.5,0.75,1,1.25,1.5,1.75,2,2.25,2.5,2.75,3],"labelExpr":"datum.value % 1 == 0 ? format(datum.value,'d') : ''","tickSize":4,"tickWidth":1.5,"domainWidth":2,"labelPadding":7,"titlePadding":19}}}},
    {"transform":[{"filter":"datum.g != 'Young'"}],"mark":{"type":"bar","stroke":"#231f20","strokeWidth":2},"encoding":{"y":{"field":"m","type":"quantitative"},"fill":{"field":"g","type":"nominal","scale":{"domain":["Midaged","Aged"],"range":["#a7a9ac","#231f20"]},"legend":null}}},
    {"mark":{"type":"rule","color":"#231f20","strokeWidth":2},"encoding":{"y":{"field":"m","type":"quantitative"},"y2":{"field":"hi"}}},
    {"mark":{"type":"tick","orient":"horizontal","color":"#231f20","thickness":2,"size":5},"encoding":{"y":{"field":"hi","type":"quantitative"}}}
   ]},
  {"width":270,"height":191.5,"data":{"name":"durB"},
   "encoding":{"x":{"field":"g","type":"nominal","scale":{"domain":["Young","Midaged","Aged"],"paddingInner":0.143,"paddingOuter":0.055,"align":0.6},"axis":{"title":null,"labelAngle":0,"labelFontSize":15,"labelPadding":5.6,"tickSize":4,"tickWidth":1.5,"domainWidth":2.5}}},
   "layer":[
    {"transform":[{"filter":"datum.g == 'Young'"}],"mark":{"type":"bar","stroke":"#231f20","strokeWidth":2,"fill":{"gradient":"linear","x1":0,"y1":0,"x2":1.165,"y2":0.741,"stops":[{"offset":0,"color":"white"},{"offset":0.0697,"color":"white"},{"offset":0.0697,"color":"#231f20"},{"offset":0.087,"color":"#231f20"},{"offset":0.087,"color":"white"},{"offset":0.25,"color":"white"},{"offset":0.25,"color":"#231f20"},{"offset":0.2672,"color":"#231f20"},{"offset":0.2672,"color":"white"},{"offset":0.4302,"color":"white"},{"offset":0.4302,"color":"#231f20"},{"offset":0.4475,"color":"#231f20"},{"offset":0.4475,"color":"white"},{"offset":0.6105,"color":"white"},{"offset":0.6105,"color":"#231f20"},{"offset":0.6277,"color":"#231f20"},{"offset":0.6277,"color":"white"},{"offset":0.7908,"color":"white"},{"offset":0.7908,"color":"#231f20"},{"offset":0.808,"color":"#231f20"},{"offset":0.808,"color":"white"},{"offset":0.971,"color":"white"},{"offset":0.971,"color":"#231f20"},{"offset":0.9882,"color":"#231f20"},{"offset":0.9882,"color":"white"},{"offset":1,"color":"white"}]}},
     "encoding":{"y":{"field":"m","type":"quantitative","scale":{"domain":[0,1.6],"nice":false},"axis":{"title":"sAHP Duration (s)","titleY":89.5,"values":[0,0.1,0.2,0.3,0.4,0.5,0.6,0.7,0.8,0.9,1.0,1.1,1.2,1.3,1.4,1.5,1.6],"labelExpr":"datum.value == 0 ? '0' : datum.value == 0.4 ? '.4' : datum.value == 0.8 ? '.8' : datum.value == 1.2 ? '1.2' : datum.value == 1.6 ? '1.6' : ''","tickSize":4,"tickWidth":1.5,"domainWidth":2,"labelPadding":8.7,"titlePadding":8.8}}}},
    {"transform":[{"filter":"datum.g != 'Young'"}],"mark":{"type":"bar","stroke":"#231f20","strokeWidth":2},"encoding":{"y":{"field":"m","type":"quantitative"},"fill":{"field":"g","type":"nominal","scale":{"domain":["Midaged","Aged"],"range":["#a7a9ac","#231f20"]},"legend":null}}},
    {"mark":{"type":"rule","color":"#231f20","strokeWidth":2},"encoding":{"y":{"field":"m","type":"quantitative"},"y2":{"field":"hi"}}},
    {"mark":{"type":"tick","orient":"horizontal","color":"#231f20","thickness":2,"size":5},"encoding":{"y":{"field":"hi","type":"quantitative"}}}
   ]}
 ]}
]
}
